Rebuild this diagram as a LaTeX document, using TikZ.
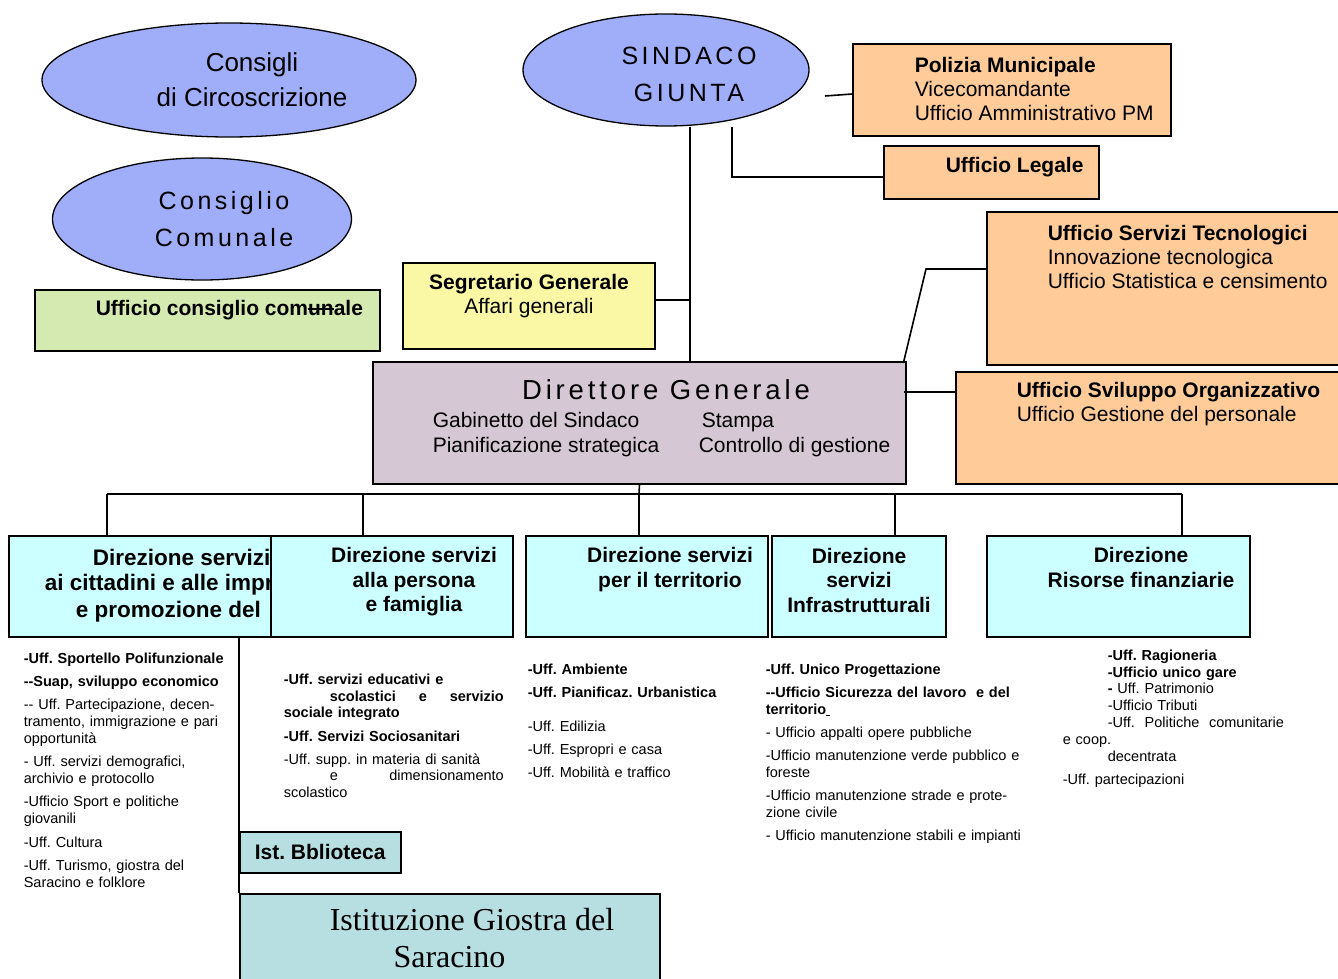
\documentclass[tikz,border=0pt]{standalone}
\usepackage{fontspec}
\setmainfont{Liberation Sans}
\newfontfamily\spaced[LetterSpace=14]{Liberation Sans}
\newfontfamily\serifface{Liberation Serif}
\usetikzlibrary{shapes.geometric}
\definecolor{organoblu}{RGB}{160,174,250}
\definecolor{verde}{RGB}{212,234,176}
\definecolor{giallo}{RGB}{250,248,165}
\definecolor{arancio}{RGB}{255,204,153}
\definecolor{malva}{RGB}{213,200,212}
\definecolor{azzurro}{RGB}{204,255,255}
\definecolor{ottanio}{RGB}{183,222,225}
\newcommand\barrato[1]{\setbox0\hbox{#1}\rlap{\rule[0.26em]{\wd0}{0.07em}}\box0}
\frenchspacing

\begin{document}
\begin{tikzpicture}[
  x=1pt, y=-1pt,
  line width=1.6pt,
  organo/.style={draw,ellipse,fill=organoblu,line width=1.3pt,inner sep=0pt},
  ufficio/.style={draw,rectangle,inner sep=0pt},
  direzione/.style={ufficio,fill=azzurro,minimum height=101pt},
  testo/.style={inner sep=0pt,align=left,font=\fontsize{21}{24}\selectfont},
  dirtesto/.style={testo,align=center,font=\bfseries\fontsize{21}{24.5}\selectfont},
  elenco/.style={inner sep=0pt,align=left,anchor=north west,font=\fontsize{14.5}{16.8}\selectfont},
  ]
  \useasboundingbox (0,0) rectangle (1338,979);
  \clip (0,0) rectangle (1338,979);

  % organi
  \node[organo,minimum width=374pt,minimum height=114pt] (circ) at (229,80) {};
  \node[testo,align=center,font=\fontsize{26}{35}\selectfont] (circtxt) at (252,80) {Consigli\\di Circoscrizione};
  \node[organo,minimum width=299pt,minimum height=122pt] (cc) at (202,219) {};
  \node[testo,align=center,font=\spaced\fontsize{25}{37}\selectfont] (cctxt) at (224,219) {Consiglio\\Comunale};
  \node[organo,minimum width=286pt,minimum height=112pt] (sind) at (666,70) {};
  \node[testo,align=center,font=\spaced\fontsize{25}{37}\selectfont] (sindtxt) at (689,74) {SINDACO\\GIUNTA};

  % uffici di staff
  \node[ufficio,fill=verde,minimum width=345pt,minimum height=61pt] (ucc) at (207.5,320.5) {};
  \node[testo,anchor=west,font=\bfseries\fontsize{21}{24}\selectfont] (ucctxt) at (95,310) {Ufficio consiglio com\barrato{un}ale};
  \node[ufficio,fill=giallo,minimum width=252pt,minimum height=86pt] (segr) at (529,306) {};
  \node[testo,align=center] (segrtxt) at (529,296) {\textbf{Segretario Generale}\\Affari generali};
  \node[ufficio,fill=arancio,minimum width=318pt,minimum height=92pt] (pm) at (1012,90) {};
  \node[testo,anchor=west] (pmtxt) at (914,89) {\textbf{Polizia Municipale}\\Vicecomandante\\Ufficio Amministrativo PM};
  \node[ufficio,fill=arancio,minimum width=215pt,minimum height=53pt] (legale) at (991.5,172.5) {};
  \node[testo,anchor=west,font=\bfseries\fontsize{21}{24}\selectfont] (legtxt) at (945,167) {Ufficio Legale};
  \node[ufficio,fill=arancio,minimum width=358pt,minimum height=153pt] (tecno) at (1166,288.5) {};
  \node[testo,anchor=west] (tecnotxt) at (1047,257) {\textbf{Ufficio Servizi Tecnologici}\\Innovazione tecnologica\\Ufficio Statistica e censimento};
  \node[ufficio,fill=arancio,minimum width=389pt,minimum height=112pt] (svil) at (1150.5,428) {};
  \node[testo,anchor=west] (sviltxt) at (1016,404.5) {\textbf{Ufficio Sviluppo Organizzativo}\\Ufficio Gestione del personale};

  % direttore
  \node[ufficio,fill=malva,minimum width=533pt,minimum height=122pt] (dg) at (639.5,423) {};
  \node[testo,font=\spaced\fontsize{27.5}{30}\selectfont] (dgtxt) at (666,390) {Direttore Generale};
  \node[testo,anchor=west,font=\fontsize{21}{25}\selectfont] (dgsx) at (432,434.5) {Gabinetto del Sindaco\\Pianificazione strategica};
  \node[testo,anchor=west,font=\fontsize{21}{25}\selectfont] (dgdx) at (698,434.5) {\hspace*{3pt}Stampa\\Controllo di gestione};

  % direzioni
  \node[direzione,minimum width=348pt] (d1) at (183,586.5) {};
  \node[testo,anchor=west,font=\bfseries\fontsize{22.5}{27}\selectfont] (d1a) at (92,557) {Direzione servizi};
  \node[testo,anchor=west,font=\bfseries\fontsize{22.5}{27}\selectfont] (d1b) at (44,585) {ai cittadini e alle imprese};
  \node[testo,anchor=west,font=\bfseries\fontsize{22.5}{27}\selectfont] (d1c) at (75,612) {e promozione del};
  \node[direzione,minimum width=242pt] (d2) at (392,586.5) {};
  \node[dirtesto] (d2txt) at (414,582) {Direzione servizi\\alla persona\\e famiglia};
  \node[direzione,minimum width=242pt] (d3) at (647,586.5) {};
  \node[dirtesto] (d3txt) at (670,569.5) {Direzione servizi\\per il territorio};
  \node[direzione,minimum width=174pt] (d4) at (859,586.5) {};
  \node[dirtesto] (d4txt) at (859,580) {Direzione\\servizi\\Infrastrutturali};
  \node[direzione,minimum width=263pt] (d5) at (1118.5,586.5) {};
  \node[dirtesto] (d5txt) at (1141,567.5) {Direzione\\Risorse finanziarie};

  % istituzioni
  \node[ufficio,fill=ottanio,minimum width=161pt,minimum height=41pt] (bibl) at (320.5,852.5) {};
  \node[testo,anchor=west,font=\bfseries\fontsize{21}{24}\selectfont] (bibltxt) at (254,852) {Ist. Bblioteca};
  \node[ufficio,fill=ottanio,minimum width=420pt,minimum height=106pt] (giostra) at (450,947) {};
  \node[testo,align=center,font=\serifface\fontsize{32}{37}\selectfont] (giostratxt) at (472,938.5) {Istituzione Giostra del\\Saracino\hspace*{45pt}\mbox{}};

  % elenchi uffici
  \node[elenco,text width=230pt] (l1) at (23,652) {%
    \textbf{-Uff. Sportello Polifunzionale}\\[6.5pt]
    \textbf{-{}-Suap, sviluppo economico}\\[6.5pt]
    -{}- Uff. Partecipazione, decen-\\tramento, immigrazione e pari\\opportunità\\[6.5pt]
    - Uff. servizi demografici,\\archivio e protocollo\\[6.5pt]
    -Ufficio Sport e politiche\\giovanili\\[6.5pt]
    -Uff. Cultura\\[6.5pt]
    -Uff. Turismo, giostra del\\Saracino e folklore};
  \node[elenco,text width=222pt] (l2) at (283,673) {%
    \textbf{-Uff. servizi educativi e}\\
    \leavevmode\hbox to 220pt{\bfseries\hspace*{46pt}scolastici\hfill e\hfill servizio}\\
    \textbf{sociale integrato}\\[6.3pt]
    \textbf{-Uff. Servizi Sociosanitari}\\[6.3pt]
    -Uff. supp. in materia di sanità\\
    \leavevmode\hbox to 220pt{\hspace*{46pt}e\hfill dimensionamento}\\
    scolastico};
  \node[elenco,text width=230pt] (l3) at (527,663) {%
    \textbf{-Uff. Ambiente}\\[6.3pt]
    \textbf{-Uff. Pianificaz. Urbanistica}\\[17.3pt]
    -Uff. Edilizia\\[6.3pt]
    -Uff. Espropri e casa\\[6.3pt]
    -Uff. Mobilità e traffico};
  \node[elenco,text width=270pt] (l4) at (765,663) {%
    \textbf{-Uff. Unico Progettazione}\\[6.3pt]
    \textbf{-{}-Ufficio Sicurezza del lavoro\ \ e del}\\
    \textbf{territorio}\underline{\hspace{4pt}}\\[6.3pt]
    - Ufficio appalti opere pubbliche\\[6.3pt]
    -Ufficio manutenzione verde pubblico e\\foreste\\[6.3pt]
    -Ufficio manutenzione strade e prote-\\zione civile\\[6.3pt]
    - Ufficio manutenzione stabili e impianti};
  \node[elenco,text width=270pt] (l5) at (1062,649) {%
    \hspace*{45pt}\textbf{-Uff. Ragioneria}\\
    \hspace*{45pt}\textbf{-Ufficio unico gare}\\
    \hspace*{45pt}\textbf{-} Uff. Patrimonio\\
    \hspace*{45pt}-Ufficio Tributi\\
    \hspace*{45pt}-Uff.\ \ Politiche\ \ comunitarie\\
    e coop.\\
    \hspace*{45pt}decentrata\\[6.3pt]
    -Uff. partecipazioni};

  % collegamenti
  \coordinate (asse) at (690,300);
  \coordinate (leg) at (732,177);
  \coordinate (pmlink) at (825,96);
  \coordinate (tec) at (926,269);
  \coordinate (svl) at (904,392);
  \coordinate (bus) at (639,494);
  \coordinate (b1) at (107,494);
  \coordinate (b2) at (363,494);
  \coordinate (b4) at (895,494);
  \coordinate (b5) at (1182,494);
  \coordinate (ist) at (239,893);
  \draw (asse |- sind.south) -- (asse |- dg.north);
  \draw (asse -| segr.east) -- (asse);
  \draw (leg |- sind.south) -- (leg) -- (leg -| legale.west);
  \draw (pmlink) -- ([yshift=-4pt]pm.west);
  \draw ([xshift=-3pt]dg.north east) -- (tec) -- (tec -| tecno.west);
  \draw (svl) -- (svl -| svil.west);
  \draw (dg.south) -- (bus);
  \draw (b1) -- (b5);
  \foreach \b/\d in {b1/d1,b2/d2,bus/d3,b4/d4,b5/d5}
    \draw (\b) -- (\b |- \d.north);
  \draw (ist |- d1.south) -- (ist |- giostra.north);
\end{tikzpicture}
\end{document}
